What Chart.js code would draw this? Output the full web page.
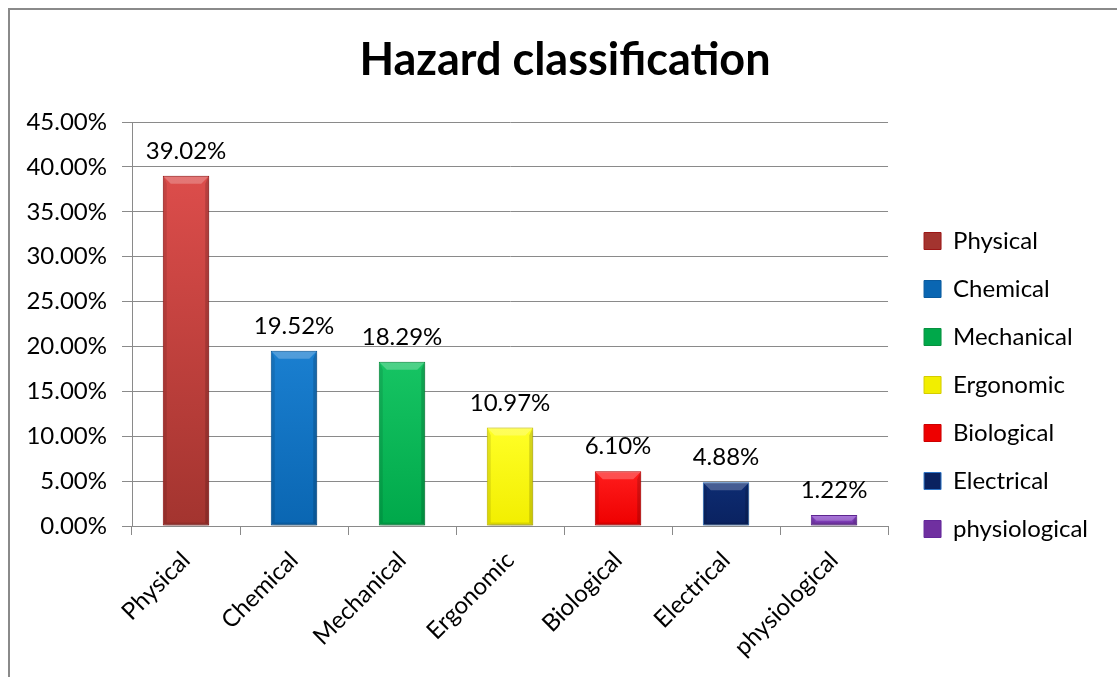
<!DOCTYPE html>
<html>
<head>
<meta charset="utf-8">
<title>Hazard classification</title>
<script src="https://cdn.jsdelivr.net/npm/chart.js@4.4.1/dist/chart.umd.min.js"></script>
<style>
  html, body { margin: 0; padding: 0; background: #ffffff; }
  #wrap { width: 1117px; height: 677px; position: relative; }
</style>
</head>
<body>
<div id="wrap"><canvas id="hazardChart"></canvas></div>
<script>
// Hazard categories and their share of all identified hazards (%)
const categories = ['Physical', 'Chemical', 'Mechanical', 'Ergonomic', 'Biological', 'Electrical', 'physiological'];
const shares = [39.02, 19.52, 18.29, 10.97, 6.10, 4.88, 1.22];

// Value axis: 0 % to 45 % in steps of 5 %
const yMin = 0;
const yMax = 45;
const yStep = 5;

// Per-category bar colours: gradient top, gradient bottom, edge
const topColors    = ['#dc4d4b', '#1a7fd0', '#16c463', '#ffff26', '#ff1c1c', '#0d2c72', '#8d4ad0'];
const bottomColors = ['#a3342f', '#0a66b2', '#00a84a', '#f2ee00', '#ee0000', '#0a2260', '#7030a0'];
const edgeColors   = ['#9c1616', '#0a5a9e', '#07913f', '#d4cc00', '#cc0000', '#2e74c6', '#64289a'];

const FONT = 'Lato, "Open Sans", "DejaVu Sans", sans-serif';
const TEXT_SIZE = 24;
const GRID = '#8a8a8a';

// Outer frame of the figure (left/top edges visible)
const FRAME_LEFT = 9;
const FRAME_RIGHT = 1121;

const fmtPct = v => Number(v).toFixed(2) + '%';

// Vertical gradient for each bar, running from the bar's top to the zero line
function barGradient(context) {
  const chart = context.chart;
  const i = context.dataIndex;
  const ys = chart.scales && chart.scales.y;
  if (!chart.chartArea || !ys) return topColors[i];
  const top = ys.getPixelForValue(shares[i]);
  const base = ys.getPixelForValue(0);
  if (!isFinite(top) || !isFinite(base) || base - top < 1) return topColors[i];
  const g = chart.ctx.createLinearGradient(0, top, 0, base);
  g.addColorStop(0, topColors[i]);
  g.addColorStop(1, bottomColors[i]);
  return g;
}

// White page with the grey frame line
const framePlugin = {
  id: 'frame',
  beforeDraw(chart) {
    const ctx = chart.ctx;
    ctx.save();
    ctx.fillStyle = '#ffffff';
    ctx.fillRect(0, 0, chart.width, chart.height);
    ctx.strokeStyle = '#8a8a8a';
    ctx.lineWidth = 2;
    ctx.strokeRect(FRAME_LEFT, FRAME_LEFT, FRAME_RIGHT - FRAME_LEFT, chart.height + 40);
    ctx.restore();
  }
};

// Soft drop shadow under the bars
const shadowPlugin = {
  id: 'barShadow',
  beforeDatasetsDraw(chart) {
    const ctx = chart.ctx;
    ctx.save();
    ctx.shadowColor = 'rgba(0,0,0,0.28)';
    ctx.shadowBlur = 4;
    ctx.shadowOffsetX = 1;
    ctx.shadowOffsetY = 1;
  },
  afterDatasetsDraw(chart) {
    chart.ctx.restore();
  }
};

// Bevelled look: light top facet, slightly darker side and bottom facets
const bevelPlugin = {
  id: 'bevel',
  afterDatasetsDraw(chart) {
    const ctx = chart.ctx;
    const meta = chart.getDatasetMeta(0);
    ctx.save();
    meta.data.forEach(bar => {
      const { x, y, base, width } = bar.getProps(['x', 'y', 'base', 'width'], true);
      const x0 = x - width / 2 + 1, x1 = x + width / 2 - 1;
      const t = y + 1, b = base;
      const h = b - t;
      const s = Math.min(7, h / 2);
      const poly = (pts, fill) => {
        ctx.beginPath();
        ctx.moveTo(pts[0][0], pts[0][1]);
        for (let k = 1; k < pts.length; k++) ctx.lineTo(pts[k][0], pts[k][1]);
        ctx.closePath();
        ctx.fillStyle = fill;
        ctx.fill();
      };
      poly([[x0, t], [x1, t], [x1 - s, t + s], [x0 + s, t + s]], 'rgba(255,255,255,0.24)');
      poly([[x0, t], [x0 + 3, t + s], [x0 + 3, b - 3], [x0, b]], 'rgba(0,0,0,0.10)');
      poly([[x1, t], [x1 - 3, t + s], [x1 - 3, b - 3], [x1, b]], 'rgba(0,0,0,0.16)');
      poly([[x0, b], [x1, b], [x1 - 3, b - 3], [x0 + 3, b - 3]], 'rgba(0,0,0,0.10)');
    });
    ctx.restore();
  }
};

// Value labels above each bar
const valueLabelPlugin = {
  id: 'valueLabels',
  afterDatasetsDraw(chart) {
    const ctx = chart.ctx;
    const meta = chart.getDatasetMeta(0);
    ctx.save();
    ctx.font = TEXT_SIZE + 'px ' + FONT;
    ctx.fillStyle = '#000000';
    ctx.textAlign = 'center';
    ctx.textBaseline = 'alphabetic';
    meta.data.forEach((bar, i) => {
      ctx.fillText(fmtPct(shares[i]), bar.x, bar.y - 17);
    });
    ctx.restore();
  }
};

// Centre the title over the whole frame and set the legend column
// beside the plot area, vertically centred on the value axis
const placementPlugin = {
  id: 'placement',
  afterLayout(chart) {
    const area = chart.chartArea;
    const tb = chart.titleBlock;
    if (tb) {
      tb.left = FRAME_LEFT;
      tb.right = FRAME_RIGHT;
      tb.width = FRAME_RIGHT - FRAME_LEFT;
    }
    const lg = chart.legend;
    if (lg) {
      lg.left = area.right + 12;
      lg.right = chart.width;
      lg.width = lg.right - lg.left;
      lg.top = area.top;
      lg.bottom = area.bottom + 122;
      lg.height = lg.bottom - lg.top;
    }
  }
};

const ctx = document.getElementById('hazardChart').getContext('2d');
new Chart(ctx, {
  type: 'bar',
  data: {
    labels: categories,
    datasets: [{
      label: 'Hazard classification',
      data: shares,
      backgroundColor: barGradient,
      borderColor: edgeColors,
      borderWidth: 1,
      borderSkipped: false,
      categoryPercentage: 1.0,
      barPercentage: 0.43
    }]
  },
  options: {
    responsive: true,
    maintainAspectRatio: false,
    devicePixelRatio: 1,
    animation: false,
    events: [],
    layout: { padding: { left: 20, right: 31, top: 10, bottom: 5 } },
    scales: {
      x: {
        offset: true,
        grid: { display: true, drawOnChartArea: false, drawTicks: true, tickLength: 9, color: GRID, lineWidth: 1 },
        border: { display: true, color: GRID, width: 1 },
        ticks: {
          color: '#000000',
          font: { family: FONT, size: TEXT_SIZE },
          minRotation: 45,
          maxRotation: 45,
          padding: 11,
          autoSkip: false
        },
        afterFit(scale) { scale.height = 677 - 5 - 526; }
      },
      y: {
        min: yMin,
        max: yMax,
        grid: { color: GRID, lineWidth: 1, drawTicks: true, tickLength: 10 },
        border: { display: true, color: GRID, width: 1 },
        ticks: {
          stepSize: yStep,
          color: '#000000',
          font: { family: FONT, size: TEXT_SIZE },
          padding: 15,
          callback: v => fmtPct(v)
        },
        afterFit(scale) { scale.width = 132 - 20; }
      }
    },
    plugins: {
      title: {
        display: true,
        text: 'Hazard classification',
        color: '#000000',
        font: { family: FONT, size: 45, weight: 'bold', lineHeight: 1.2 },
        padding: { top: 23, bottom: 35 }
      },
      legend: {
        display: true,
        position: 'right',
        align: 'center',
        labels: {
          color: '#000000',
          font: { family: FONT, size: TEXT_SIZE },
          boxWidth: 17,
          boxHeight: 17,
          padding: 24,
          generateLabels(chart) {
            return categories.map((name, i) => ({
              text: name,
              fillStyle: bottomColors[i],
              strokeStyle: edgeColors[i],
              lineWidth: 1,
              hidden: false,
              index: i,
              datasetIndex: 0
            }));
          }
        }
      },
      tooltip: { enabled: false }
    }
  },
  plugins: [framePlugin, shadowPlugin, bevelPlugin, valueLabelPlugin, placementPlugin]
});
</script>
</body>
</html>
